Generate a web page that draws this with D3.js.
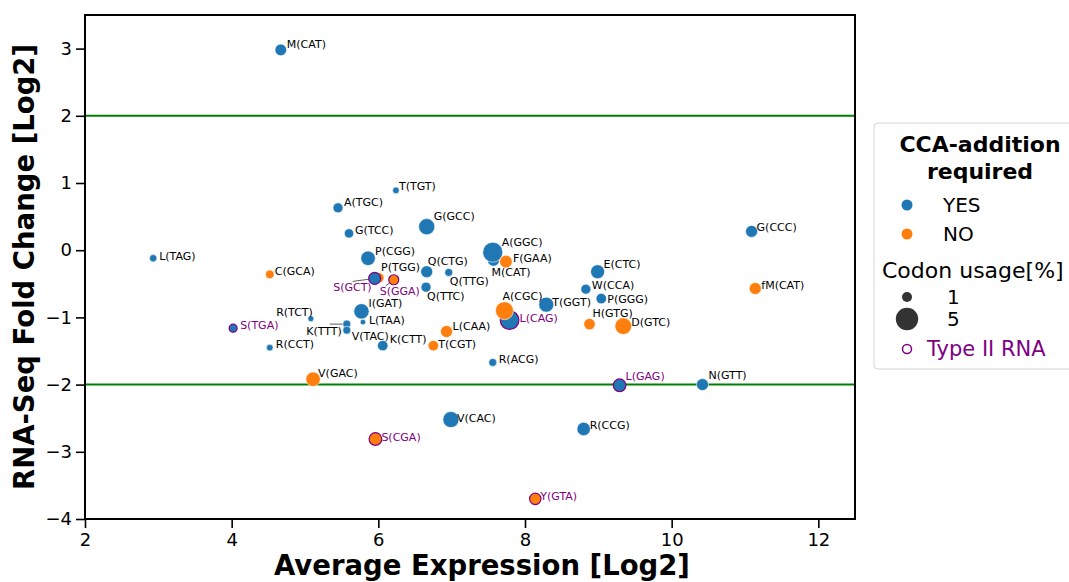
<!DOCTYPE html>
<html>
<head>
<meta charset="utf-8">
<script src="https://cdn.jsdelivr.net/npm/d3@7"></script>
<style>
  body { margin: 0; background: #fff; }
  svg { display: block; font-family: "DejaVu Sans", sans-serif; }
</style>
</head>
<body>
<div id="canvas"></div>
<script>
// codon data (draw order matters for overlaps)
const codons = ['M(CAT)', 'L(TAG)', 'A(TGC)', 'T(TGT)', 'G(TCC)', 'G(GCC)', 'P(CGG)', 'C(GCA)',
  'P(TGG)', 'S(GCT)', 'S(GGA)', 'Q(CTG)', 'Q(TTG)', 'Q(TTC)', 'M(CAT)', 'A(GGC)', 'F(GAA)',
  'E(CTC)', 'W(CCA)', 'P(GGG)', 'T(GGT)', 'L(CAG)', 'A(CGC)', 'H(GTG)', 'D(GTC)', 'G(CCC)',
  'fM(CAT)', 'N(GTT)', 'L(GAG)', 'I(GAT)', 'L(TAA)', 'R(TCT)', 'K(TTT)', 'V(TAC)', 'K(CTT)',
  'L(CAA)', 'T(CGT)', 'S(TGA)', 'R(CCT)', 'R(ACG)', 'V(GAC)', 'V(CAC)', 'S(CGA)', 'R(CCG)', 'Y(GTA)'];
const avgExpression = [4.67, 2.93, 5.45, 6.24, 5.60, 6.66, 5.86, 4.52,
  6.01, 5.95, 6.21, 6.66, 6.96, 6.65, 7.57, 7.56, 7.74,
  8.99, 8.83, 9.04, 8.29, 7.79, 7.72, 8.88, 9.34, 11.09,
  11.14, 10.42, 9.29, 5.77, 5.79, 5.08, 5.57, 5.57, 6.06,
  6.93, 6.75, 4.02, 4.52, 7.56, 5.11, 6.99, 5.96, 8.80, 8.14];
const foldChange = [2.98, -0.12, 0.63, 0.89, 0.25, 0.35, -0.12, -0.36,
  -0.41, -0.42, -0.44, -0.32, -0.33, -0.55, -0.15, -0.03, -0.17,
  -0.32, -0.58, -0.72, -0.81, -1.04, -0.90, -1.10, -1.13, 0.28,
  -0.57, -2.00, -2.01, -0.91, -1.07, -1.02, -1.10, -1.19, -1.42,
  -1.21, -1.42, -1.16, -1.45, -1.67, -1.92, -2.52, -2.81, -2.66, -3.70];
const codonUsage = [1.36, 0.54, 1.0, 0.44, 0.87, 2.6, 2.1, 0.75,
  1.0, 1.44, 1.0, 1.44, 0.64, 1.0, 1.4, 4.0, 1.6,
  1.96, 1.0, 1.1, 2.25, 3.5, 3.24, 1.3, 2.8, 1.44,
  1.44, 1.44, 1.6, 2.35, 0.3, 0.36, 0.64, 0.64, 1.1,
  1.44, 1.1, 0.64, 0.44, 0.64, 2.1, 2.6, 1.6, 1.8, 1.3];
const ccaRequired = ['YES', 'YES', 'YES', 'YES', 'YES', 'YES', 'YES', 'NO',
  'NO', 'YES', 'NO', 'YES', 'YES', 'YES', 'YES', 'YES', 'NO',
  'YES', 'YES', 'YES', 'YES', 'YES', 'NO', 'NO', 'NO', 'YES',
  'NO', 'YES', 'YES', 'YES', 'YES', 'YES', 'YES', 'YES', 'YES',
  'NO', 'NO', 'YES', 'YES', 'YES', 'NO', 'YES', 'NO', 'YES', 'NO'];
const typeII = ['S(GCT)', 'S(GGA)', 'L(CAG)', 'L(GAG)', 'S(TGA)', 'S(CGA)', 'Y(GTA)'];
const thresholds = [2, -2];
const xTicks = [2, 4, 6, 8, 10, 12];
const yTicks = [-4, -3, -2, -1, 0, 1, 2, 3];
const legendCategories = ['YES', 'NO'];
const legendSizes = [1, 5];

// label nudges in pixels: [dx, dy to text centre, anchor]
const labelNudge = [[6,-6],[6,-2],[6,-6],[3,-4],[6,-3],[7,-11],[7,-7],[5,-3],
  [2,-11],[-3,9,'end'],[-14,11],[1,-11],[1,9],[1,9],[-2,12],[9,-10],[7,-4],
  [6,-8],[6,-4],[6,0],[6,-3],[10,-2],[-2,-15],[3,-11],[8,-4],[5,-4],
  [6,-4],[6,-10],[6,-9],[7,-8],[6,-2],[2,-7,'end'],[-5,7,'end'],[5,6],[7,-7],
  [6,-6],[5,-2],[7,-3],[6,-4],[6,-3],[5,-6],[6,-2],[6,-2],[6,-4],[5,-3]];
// leader lines (start offset from point) for moved labels
const leaders = { 9: [-22, 3], 10: [-8, 6], 32: [-17, 0] };

const width = 1069, height = 582;
const margin = { top: 15, right: 214, bottom: 63, left: 85 };
const purple = '#800080';
const colour = d3.scaleOrdinal().domain(['YES', 'NO']).range(['#1f77b4', '#ff7f0e']);
const radius = d3.scaleSqrt().domain([0, 1]).range([0, 5]);

const svg = d3.select('#canvas').append('svg')
    .attr('width', width)
    .attr('height', height);

const xScale = d3.scaleLinear()
    .domain([2, 12.5])
    .range([margin.left, width - margin.right]);

const yScale = d3.scaleLinear()
    .domain([-4, 3.5])
    .range([height - margin.bottom, margin.top]);

// axes
const xAxis = svg.append('g')
    .attr('transform', `translate(0,${height - margin.bottom})`)
    .call(d3.axisBottom(xScale).tickValues(xTicks).tickSize(9).tickPadding(5));
const yAxis = svg.append('g')
    .attr('transform', `translate(${margin.left},0)`)
    .call(d3.axisLeft(yScale).tickValues(yTicks).tickSize(9).tickPadding(4));
[xAxis, yAxis].forEach(a => {
  a.select('.domain').remove();
  a.selectAll('.tick line').attr('stroke', '#000').attr('stroke-width', 1.6);
  a.selectAll('.tick text').attr('fill', '#000').style('font-size', '18px')
      .style('font-family', '"DejaVu Sans", sans-serif');
});

// threshold lines
svg.append('g').selectAll('line')
    .data(thresholds)
    .join('line')
    .attr('x1', margin.left)
    .attr('x2', width - margin.right)
    .attr('y1', d => yScale(d))
    .attr('y2', d => yScale(d))
    .attr('stroke', 'green')
    .attr('stroke-width', 2);

const idx = d3.range(codons.length);

// leader lines
svg.append('g').selectAll('line')
    .data(idx.filter(i => leaders[i]))
    .join('line')
    .attr('x1', i => xScale(avgExpression[i]) + leaders[i][0])
    .attr('y1', i => yScale(foldChange[i]) + leaders[i][1])
    .attr('x2', i => xScale(avgExpression[i]))
    .attr('y2', i => yScale(foldChange[i]))
    .attr('stroke', '#333')
    .attr('stroke-width', 0.8);

// points
svg.append('g').selectAll('circle')
    .data(idx)
    .join('circle')
    .attr('cx', i => xScale(avgExpression[i]))
    .attr('cy', i => yScale(foldChange[i]))
    .attr('r', i => radius(codonUsage[i]))
    .attr('fill', i => colour(ccaRequired[i]))
    .attr('stroke', i => typeII.includes(codons[i]) ? purple : '#fff')
    .attr('stroke-width', i => typeII.includes(codons[i]) ? 1.2 : 0.6);

// point labels
svg.append('g').selectAll('text')
    .data(idx)
    .join('text')
    .attr('x', i => xScale(avgExpression[i]) + labelNudge[i][0])
    .attr('y', i => yScale(foldChange[i]) + labelNudge[i][1] + 4)
    .attr('text-anchor', i => labelNudge[i][2] || 'start')
    .attr('fill', i => typeII.includes(codons[i]) ? purple : '#000')
    .style('font-size', '11px')
    .text(i => codons[i]);

// frame
svg.append('rect')
    .attr('x', margin.left)
    .attr('y', margin.top)
    .attr('width', width - margin.left - margin.right)
    .attr('height', height - margin.top - margin.bottom)
    .attr('fill', 'none')
    .attr('stroke', '#000')
    .attr('stroke-width', 2);

// axis titles
svg.append('text')
    .attr('x', (margin.left + width - margin.right) / 2 + 12)
    .attr('y', 575)
    .attr('text-anchor', 'middle')
    .style('font-size', '27.5px')
    .style('font-weight', 'bold')
    .text('Average Expression [Log2]');

svg.append('text')
    .attr('transform', `translate(34,${(margin.top + height - margin.bottom) / 2}) rotate(-90)`)
    .attr('text-anchor', 'middle')
    .style('font-size', '27.5px')
    .style('font-weight', 'bold')
    .text('RNA-Seq Fold Change [Log2]');

// legend
const legend = svg.append('g');
legend.append('rect')
    .attr('x', 874).attr('y', 123)
    .attr('width', 230).attr('height', 246)
    .attr('rx', 4)
    .attr('fill', '#fff')
    .attr('stroke', '#d6d6d6');

legend.selectAll('.title')
    .data(['CCA-addition', 'required'])
    .join('text')
    .attr('x', 980)
    .attr('y', (d, i) => 152 + i * 27)
    .attr('text-anchor', 'middle')
    .style('font-size', '22px')
    .style('font-weight', 'bold')
    .text(d => d);

legend.selectAll('.cat')
    .data(legendCategories)
    .join('g')
    .attr('transform', (d, i) => `translate(907,${205 + i * 29})`)
    .call(g => g.append('circle').attr('r', 5.5).attr('fill', d => colour(d)))
    .call(g => g.append('text').attr('x', 36).attr('y', 7)
        .style('font-size', '20px').text(d => d));

legend.append('text')
    .attr('x', 882).attr('y', 278)
    .style('font-size', '22px')
    .text('Codon usage[%]');

legend.selectAll('.size')
    .data(legendSizes)
    .join('g')
    .attr('transform', (d, i) => `translate(907,${297 + i * 22})`)
    .call(g => g.append('circle').attr('r', d => radius(d)).attr('fill', '#333'))
    .call(g => g.append('text').attr('x', 40).attr('y', 7)
        .style('font-size', '20px').text(d => d));

legend.append('circle')
    .attr('cx', 907).attr('cy', 349)
    .attr('r', 4.5)
    .attr('fill', 'none')
    .attr('stroke', purple)
    .attr('stroke-width', 1.5);
legend.append('text')
    .attr('x', 927).attr('y', 356)
    .attr('fill', purple)
    .style('font-size', '21px')
    .text('Type II RNA');
</script>
</body>
</html>
